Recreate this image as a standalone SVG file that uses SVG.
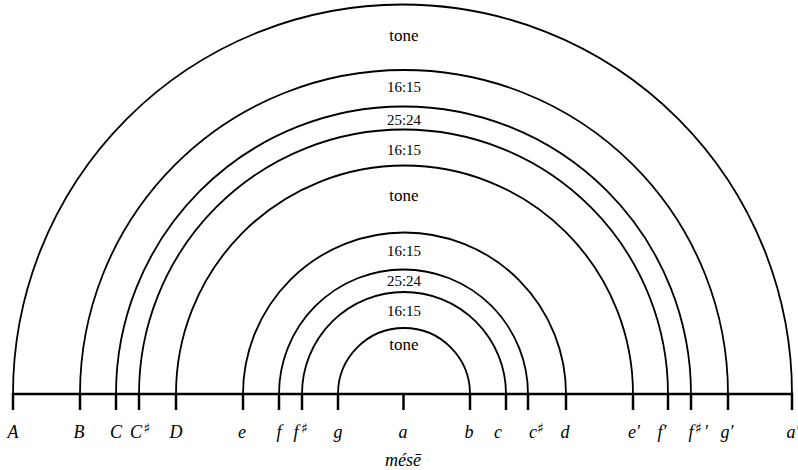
<svg xmlns="http://www.w3.org/2000/svg" width="798" height="470" viewBox="0 0 798 470">
<style>
.arc{fill:none;stroke:#000;stroke-width:1.8}
.base{stroke:#000;stroke-width:2.5}
.tick{stroke:#000;stroke-width:2.5}
</style>
<rect width="798" height="470" fill="#fff"/>
<g id="connectors">
<path class="arc" d="M13 394 A389.5 389.5 0 0 1 792 394"/>
<path class="arc" d="M80 394 A324 324 0 0 1 728 394"/>
<path class="arc" d="M116 394 A287.5 287.5 0 0 1 691 394"/>
<path class="arc" d="M139 394 A264.5 264.5 0 0 1 668 394"/>
<path class="arc" d="M176 394 A228.5 228.5 0 0 1 633 394"/>
<path class="arc" d="M243 394 A161.5 161.5 0 0 1 566 394"/>
<path class="arc" d="M279 394 A124.5 124.5 0 0 1 528 394"/>
<path class="arc" d="M302 394 A102 102 0 0 1 506 394"/>
<path class="arc" d="M338 394 A66 66 0 0 1 470 394"/>
</g>
<g id="axis">
<line class="base" x1="12" y1="394" x2="793" y2="394"/>
<g class="tick">
<line x1="13" y1="393" x2="13" y2="410"/>
<line x1="80" y1="393" x2="80" y2="410"/>
<line x1="116" y1="393" x2="116" y2="410"/>
<line x1="139" y1="393" x2="139" y2="410"/>
<line x1="176" y1="393" x2="176" y2="410"/>
<line x1="243" y1="393" x2="243" y2="410"/>
<line x1="279" y1="393" x2="279" y2="410"/>
<line x1="302" y1="393" x2="302" y2="410"/>
<line x1="338" y1="393" x2="338" y2="410"/>
<line x1="403.5" y1="393" x2="403.5" y2="410"/>
<line x1="470" y1="393" x2="470" y2="410"/>
<line x1="506" y1="393" x2="506" y2="410"/>
<line x1="528" y1="393" x2="528" y2="410"/>
<line x1="566" y1="393" x2="566" y2="410"/>
<line x1="633" y1="393" x2="633" y2="410"/>
<line x1="668" y1="393" x2="668" y2="410"/>
<line x1="691" y1="393" x2="691" y2="410"/>
<line x1="728" y1="393" x2="728" y2="410"/>
<line x1="792" y1="393" x2="792" y2="410"/>
</g>
</g>
<g id="intervals" font-family="Liberation Serif, serif" font-size="15" text-anchor="middle" fill="#000">
<text x="404" y="41" font-size="17">tone</text>
<text x="404" y="92">16:15</text>
<text x="404" y="125">25:24</text>
<text x="404" y="155">16:15</text>
<text x="404" y="201" font-size="17">tone</text>
<text x="404" y="256">16:15</text>
<text x="404" y="286">25:24</text>
<text x="404" y="316">16:15</text>
<text x="404" y="350" font-size="17">tone</text>
</g>
<g id="notes" font-family="Liberation Serif, serif" font-style="italic" font-size="18" text-anchor="middle" fill="#000">
<text x="13" y="438">A</text>
<text x="79" y="438">B</text>
<text x="116" y="438">C</text>
<text x="136" y="438">C</text>
<text x="176" y="438">D</text>
<text x="242" y="438">e</text>
<text x="279" y="438">f</text>
<text x="296" y="438">f</text>
<text x="338" y="438">g</text>
<text x="403" y="438">a</text>
<text x="469" y="438">b</text>
<text x="498" y="438">c</text>
<text x="533" y="438">c</text>
<text x="565" y="438">d</text>
<text x="634" y="438">e′</text>
<text x="662" y="438">f′</text>
<text x="691" y="438">f</text>
<text x="706" y="438">′</text>
<text x="727" y="438">g′</text>
<text x="793" y="438">a′</text>
<text x="403" y="466">mésē</text>
</g>
<g id="sharps" font-family="DejaVu Serif, serif" font-size="14" fill="#000">
<text x="143.5" y="433">♯</text>
<text x="301" y="433">♯</text>
<text x="537" y="433">♯</text>
<text x="695" y="433">♯</text>
</g>
</svg>
